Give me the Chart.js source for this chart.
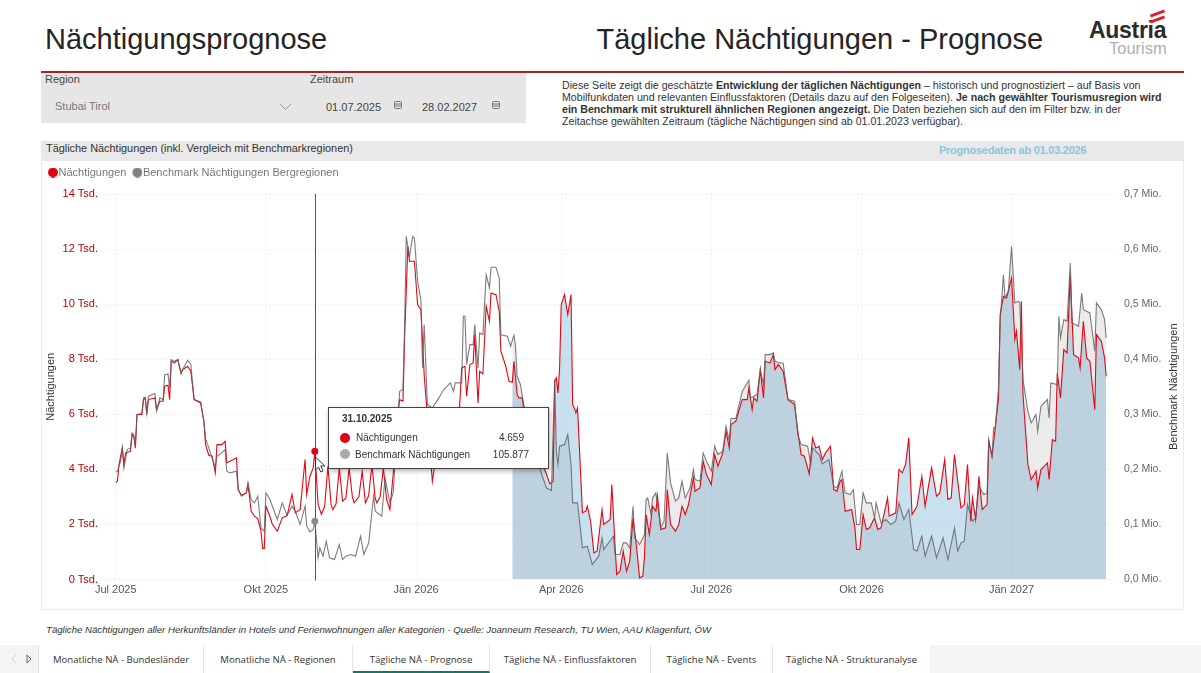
<!DOCTYPE html>
<html lang="de"><head><meta charset="utf-8"><title>Nächtigungsprognose</title>
<script src="https://cdn.jsdelivr.net/npm/chart.js@4"></script>
<style>
html,body{margin:0;padding:0;background:#fff;width:1201px;height:673px;overflow:hidden;font-family:"Liberation Sans",Arial,sans-serif;color:#333}
.a{position:absolute;white-space:nowrap}
#chartWrap{position:absolute;left:41px;top:161px;width:1143px;height:449px}
canvas{display:block}
.tab{position:absolute;top:645px;height:28px;text-align:center;font:9.6px/30px "Open Sans",sans-serif;color:#333;border-right:1px solid #e3e3e3;box-sizing:border-box;background:#fff}
</style></head><body>
<div class="a" style="left:45px;top:23px;font-size:29px;color:#252423">Nächtigungsprognose</div>
<div class="a" style="left:596.500px;top:23px;font-size:29px;color:#252423">Tägliche Nächtigungen - Prognose</div>
<div class="a" style="left:1089px;top:17px;font-size:23px;font-weight:bold;color:#2b2b2b;letter-spacing:-.3px">Austria</div>
<div class="a" style="left:1109px;top:39px;font-size:16.500px;color:#b0b0b0">Tourism</div>
<div class="a" style="left:1150px;top:12px;width:15px;height:3px;background:#d8232a;transform:rotate(-20deg)"></div>
<div class="a" style="left:1150px;top:18px;width:15px;height:3px;background:#d8232a;transform:rotate(-20deg)"></div>
<div class="a" style="left:41px;top:71px;width:1143px;height:2px;background:#a4262c"></div>
<div class="a" style="left:41px;top:73px;width:485px;height:50px;background:#e6e6e6"></div>
<div class="a" style="left:45px;top:73px;font-size:11px;color:#444">Region</div>
<div class="a" style="left:310px;top:73px;font-size:11px;color:#444">Zeitraum</div>
<div class="a" style="left:55px;top:100px;font-size:11px;color:#777">Stubai Tirol</div>
<svg class="a" style="left:279px;top:103px" width="13" height="8"><path d="M1 1l5.500 5.500L12 1" fill="none" stroke="#999"/></svg>
<div class="a" style="left:326px;top:101px;font-size:11px;color:#444">01.07.2025</div>
<div class="a" style="left:422px;top:101px;font-size:11px;color:#444">28.02.2027</div>
<svg class="a" style="left:394px;top:101px" width="9" height="9"><rect x=".5" y=".5" width="7" height="7" rx="1" fill="none" stroke="#777"/><path d="M1 3h6M1 5h6" stroke="#777"/></svg>
<svg class="a" style="left:492px;top:101px" width="9" height="9"><rect x=".5" y=".5" width="7" height="7" rx="1" fill="none" stroke="#777"/><path d="M1 3h6M1 5h6" stroke="#777"/></svg>
<div class="a" style="left:562px;top:79px;font-size:10.620px;line-height:12.100px;color:#333">Diese Seite zeigt die geschätzte <b>Entwicklung der täglichen Nächtigungen</b> – historisch und prognostiziert – auf Basis von<br>Mobilfunkdaten und relevanten Einflussfaktoren (Details dazu auf den Folgeseiten). <b>Je nach gewählter Tourismusregion wird</b><br><b>ein Benchmark mit strukturell ähnlichen Regionen angezeigt.</b> Die Daten beziehen sich auf den im Filter bzw. in der<br>Zeitachse gewählten Zeitraum (tägliche Nächtigungen sind ab 01.01.2023 verfügbar).</div>
<div class="a" style="left:41px;top:141px;width:1143px;height:20px;background:#e9e9e9"></div>
<div class="a" style="left:46px;top:142px;font-size:10.900px;color:#333">Tägliche Nächtigungen (inkl. Vergleich mit Benchmarkregionen)</div>
<div class="a" style="left:939px;top:144px;font-size:11px;font-weight:bold;color:#8cc4de;letter-spacing:-.25px">Prognosedaten ab 01.03.2026</div>
<div id="chartWrap" style="border:1px solid #ececec;border-top:none;box-sizing:border-box"><canvas id="c" width="1141" height="448"></canvas></div>
<div id="tip" class="a" style="left:328px;top:407px;width:221px;height:62px;background:#fff;border:1px solid #444;box-sizing:border-box;box-shadow:1px 2px 5px rgba(0,0,0,.3);font-size:10px;color:#333">
  <div class="a" style="left:13px;top:5px;font-weight:bold" id="tipDate"></div>
  <div class="a" style="left:11px;top:25px;width:10px;height:10px;border-radius:5px;background:#e00010"></div>
  <div class="a" style="left:11px;top:41px;width:10px;height:10px;border-radius:5px;background:#aaa"></div>
  <div class="a" style="left:27px;top:24px" id="tipL1"></div>
  <div class="a" style="left:26px;top:41px" id="tipL2"></div>
  <div class="a" style="right:24px;top:24px" id="tipV1"></div>
  <div class="a" style="right:19px;top:41px" id="tipV2"></div>
</div>
<svg class="a" style="left:314px;top:456px" width="14" height="18"><path d="M1.500 1v13l3-3 2.200 5 2.300-1-2.200-5h4z" fill="#fff" stroke="#333"/></svg>
<div class="a" style="left:46px;top:624px;font-size:9.650px;font-style:italic;color:#333">Tägliche Nächtigungen aller Herkunftsländer in Hotels und Ferienwohnungen aller Kategorien - Quelle: Joanneum Research, TU Wien, AAU Klagenfurt, ÖW</div>
<div class="a" style="left:0;top:645px;width:1201px;height:28px;background:#f4f4f4"></div>
<svg class="a" style="left:10px;top:654px" width="24" height="10"><path d="M6 1L2 5l4 4" fill="none" stroke="#ccc"/><path d="M17 1l4 4-4 4z" fill="none" stroke="#666"/></svg>
<div class="tab" style="left:38px;width:166px;border-left:1px solid #e3e3e3">Monatliche NÄ - Bundesländer</div>
<div class="tab" style="left:204px;width:149px">Monatliche NÄ - Regionen</div>
<div class="tab" style="left:353px;width:137px;border-bottom:2px solid #117865">Tägliche NÄ - Prognose</div>
<div class="tab" style="left:490px;width:161px">Tägliche NÄ - Einflussfaktoren</div>
<div class="tab" style="left:651px;width:122px">Tägliche NÄ - Events</div>
<div class="tab" style="left:773px;width:157px;border-right:none">Tägliche NÄ - Strukturanalyse</div>
<script>
const tickDays=[0,92,184,273,365,457,549];
const tickLabels=["Jul 2025","Okt 2025","Jän 2026","Apr 2026","Jul 2026","Okt 2026","Jän 2027"];
const forecastStartDay=243;
const hoverDay=122;
const hoverDate="31.10.2025";

const redDays=[
0,1,2,4,5,6,9,10,11,12,
13,16,17,18,19,20,24,25,27,29,
30,32,33,34,36,38,40,41,44,46,
48,52,54,55,57,59,61,62,65,67,
68,70,74,75,77,80,81,83,85,87,
89,90,91,92,94,96,99,102,105,108,
110,113,116,117,119,121,122,124,126,128,
130,132,133,135,137,139,141,143,145,146,
149,151,153,155,157,159,160,162,164,166,
168,170,173,174,176,177,179,180,183,185,
187,189,194,197,201,205,209,212,214,215,
217,219,220,222,223,225,227,229,230,233,
235,236,239,241,243,244,246,247,249,250,
256,261,264,266,268,269,270,271,272,273,
275,277,279,280,281,282,283,286,288,289,
291,293,295,298,299,303,304,306,307,309,
311,313,315,317,319,321,323,324,325,327,
329,331,332,334,337,338,340,343,345,347,
349,351,354,355,358,360,362,365,367,369,
372,374,376,377,380,383,384,387,388,390,
391,393,395,397,398,401,403,404,406,409,
412,416,418,420,422,425,427,429,431,433,
435,438,440,442,444,445,447,451,453,454,
456,458,460,462,465,467,469,473,474,478,
480,482,484,486,488,491,494,496,500,503,
505,508,510,512,514,518,520,522,524,525,
527,529,531,534,535,537,539,541,542,544,
546,549,551,552,554,555,556,559,561,564,
565,567,571,572,574,576,577,579,581,583,
585,587,590,591,593,595,597,600,601,604,
606,607];
const redValues=[
3533,3570,4175,4780,4175,4598,4659,5264,5203,4780,
5990,5990,6534,6595,6050,6534,6595,6171,6474,6474,
7018,7054,6534,7926,7865,7986,7502,7623,7744,7563,
6534,6413,5748,4900,4513,4477,3872,4900,4900,5022,
4235,4296,4417,3267,3061,3146,3449,2480,2299,2214,
1755,1125,1125,2662,2360,1997,1755,2239,2323,3086,
2420,2541,4356,3086,3751,4054,4659,2723,2360,2650,
4114,2700,2541,2750,4054,2844,2950,4054,3000,2783,
3000,3933,2783,3050,4175,2950,2783,3000,4054,2900,
2541,3812,6110,6534,6474,8772,12100,11555,11555,9982,
9801,7441,3570,4780,4175,5022,4417,7684,7744,6655,
7805,7865,8894,6413,7563,7466,9922,9378,10406,10346,
9741,8289,7744,7200,7163,7926,6716,6595,6595,6231,
5142,4296,3812,3473,3570,7200,7320,6776,7684,9982,
10346,9620,10346,6353,6231,6050,6231,2420,2480,2662,
2118,968,1029,2541,1997,2178,3449,1210,182,303,
1029,303,666,2239,1271,61,121,787,2360,1634,
2662,2480,3025,1815,1876,3267,1997,1755,1997,2662,
2360,2723,3691,3207,3328,4296,3812,3449,4538,4114,
4598,5385,4780,5627,5748,6353,6534,6534,6958,6171,
6595,6474,7623,6595,7926,7865,8168,7623,7805,7563,
6534,6353,5385,4538,4477,3836,5143,4780,4840,4356,
4598,4840,3267,3207,3570,3630,2480,2541,1876,1089,
1089,2360,1815,1876,2239,1815,1876,2965,2299,2420,
3993,3872,4175,5143,2360,2662,3751,2662,4054,3025,
3146,4356,2904,2965,4538,2602,2723,4175,2118,2965,
2178,3751,2541,2723,5022,4477,5506,6595,9620,10285,
10225,10951,8712,9015,7623,10104,6716,4175,3630,3933,
3328,3993,4235,3630,5082,5022,7502,6595,8349,8228,
11072,8168,8047,7684,9378,8047,7926,6171,8894,8652,
8047,7381];

const benchDays=[
0,1,3,4,5,7,9,10,11,12,
13,16,17,18,19,20,24,25,27,29,
30,32,33,34,36,38,40,41,44,46,
48,52,54,55,57,59,61,62,65,67,
68,70,74,75,77,80,81,83,85,87,
89,91,92,94,96,99,102,105,108,110,
113,116,117,119,121,122,124,125,127,129,
131,134,137,139,141,144,147,150,152,155,
158,159,163,165,168,170,173,174,176,177,
178,180,182,183,185,187,188,189,191,194,
198,201,205,207,208,212,213,214,215,217,
219,220,222,223,225,227,229,230,233,235,
236,237,240,242,243,244,245,246,248,250,
256,261,264,267,269,270,271,272,275,277,
279,280,283,286,289,292,296,298,299,305,
306,309,311,313,315,317,318,321,324,325,
326,328,329,331,334,336,338,340,343,345,
347,349,352,354,355,358,360,362,365,367,
369,372,374,376,377,380,382,384,388,389,
393,395,397,398,401,403,404,407,409,412,
416,418,420,424,426,427,431,433,437,440,
442,445,447,450,452,454,456,458,460,463,
465,466,469,472,475,478,480,483,486,489,
491,494,496,500,503,507,510,514,516,518,
520,522,525,527,529,532,534,535,537,538,
539,541,542,544,545,547,549,551,553,554,
555,556,559,561,564,565,567,571,572,573,
577,578,579,581,583,585,586,590,592,593,
597,600,601,604,606,607];
const benchValues=[
194810,196625,214775,238975,202675,235950,238975,266200,263175,245025,
299475,302500,329725,330935,299475,332750,337590,305525,329725,326700,
372075,373285,347875,399300,396275,399300,373285,381150,398090,390225,
326700,322465,287375,255915,238975,220825,202675,223850,229900,235950,
196625,193600,196625,163350,151250,157300,175450,145200,139150,151250,
93775,87725,157300,148225,133100,108900,139150,116160,133100,124025,
99825,133100,96800,86515,90750,105877,39325,57475,42350,69575,
39325,36300,63525,36300,42350,45375,42350,78650,45375,66550,
151250,124025,114950,184525,139150,157300,299475,341825,344850,456775,
623150,586850,623150,620125,541475,508200,384175,462825,317625,311575,
329725,344850,356950,341825,356950,356950,477950,477950,390225,426525,
426525,462825,384175,447700,444675,553575,529375,566885,566885,547525,
444675,443465,441650,423500,433785,443465,423500,369050,353925,317625,
251075,190575,166375,161535,363000,232925,208725,242000,245025,263175,
208725,139150,139150,57475,60500,27225,42350,75625,54450,78650,
45375,45375,66550,66550,57475,133100,75625,63525,81675,145200,
148225,117975,148225,157300,93775,105875,229900,175450,142175,148225,
178475,148225,166375,199650,181500,178475,229900,214775,196625,242000,
226875,232925,278300,251075,292215,292215,317625,341825,361790,329725,
335775,381150,353925,408375,408375,411400,396275,393250,393250,326700,
323675,263175,245025,242000,208725,238975,226875,209935,217800,169400,
166375,196625,157300,154275,163350,99825,99825,157300,139150,139150,
111925,139150,102850,108900,99825,105875,139150,108900,127050,54450,
51425,78650,42350,78650,39325,75625,36300,93775,51425,66550,
69575,136125,105875,111925,169400,154275,157300,254100,223850,275275,
275275,347875,468875,553575,511225,523325,605000,502150,505175,502150,
432575,363000,305525,284350,299475,269225,314600,326700,293425,356950,
353925,477950,438625,471900,468875,574750,465850,459800,520300,490050,
484000,414425,502150,490050,471900,438625];

const RED="#e30613";
const toPts=(xs,ys)=>xs.map((x,i)=>({x,y:ys[i]}));
const redPts=toPts(redDays,redValues), benchPts=toPts(benchDays,benchValues);
const fmt=v=>v.toLocaleString("de-DE");

document.getElementById("tipDate").textContent=hoverDate;
document.getElementById("tipL1").textContent="Nächtigungen";
document.getElementById("tipL2").textContent="Benchmark Nächtigungen";
document.getElementById("tipV1").textContent=fmt(redValues[redDays.indexOf(hoverDay)]);
document.getElementById("tipV2").textContent=fmt(benchValues[benchDays.indexOf(hoverDay)]);

function dot(color){
  const c=document.createElement("canvas");c.width=14;c.height=10;
  const g=c.getContext("2d");g.fillStyle=color;g.beginPath();g.arc(9,5,5,0,7);g.fill();
  return c;
}

const hoverPlugin={id:"hover",
 beforeLayout(ch){
  const l=ch.legend;
  if(l && !l._fitWrapped){
    l._fitWrapped=true;
    const f=l.fit;
    l.fit=function(){f.call(this);this.height+=6;};
  }
 },
 afterLayout(ch){
  const s=ch.scales.y2;
  s.drawTitle=function(){
    const o=this.options.title,c=this.ctx;
    c.save();c.translate(this.right-9,(this.top+this.bottom)/2);c.rotate(-Math.PI/2);
    c.font="11px 'Liberation Sans'";c.fillStyle=o.color;c.textAlign="center";c.textBaseline="middle";
    c.fillText(o.text,0,0);c.restore();
  };
 },
 afterDatasetsDraw(ch){
  const {ctx,chartArea:a,scales:{x,y,y2}}=ch;
  const px=x.getPixelForValue(hoverDay);
  ctx.save();ctx.strokeStyle="#555";ctx.lineWidth=1;ctx.beginPath();
  ctx.moveTo(Math.round(px)+.5,a.top);ctx.lineTo(Math.round(px)+.5,a.bottom+1);ctx.stroke();
  ctx.fillStyle="#e00010";ctx.beginPath();ctx.arc(px,y.getPixelForValue(redValues[redDays.indexOf(hoverDay)]),3.5,0,7);ctx.fill();
  ctx.fillStyle="#8c8c8c";ctx.beginPath();ctx.arc(px,y2.getPixelForValue(benchValues[benchDays.indexOf(hoverDay)]),3.5,0,7);ctx.fill();
  ctx.restore();
}};

new Chart(document.getElementById("c"),{
  type:"line",
  plugins:[hoverPlugin],
  data:{datasets:[
    {label:"Nächtigungen",data:redPts,yAxisID:"y",borderColor:RED,backgroundColor:"#e00010",pointStyle:dot("#e00010"),borderWidth:1.1,pointRadius:0,tension:0,fill:false,order:2},
    {label:"Benchmark Nächtigungen Bergregionen",data:benchPts,yAxisID:"y2",borderColor:"rgba(95,95,95,.82)",backgroundColor:"#808080",pointStyle:dot("#808080"),borderWidth:1.1,pointRadius:0,tension:0,fill:false,order:1},
    {label:"Prognose Nächtigungen",data:redPts.filter(p=>p.x>=forecastStartDay),yAxisID:"y",borderWidth:0,pointRadius:0,tension:0,fill:"origin",backgroundColor:"rgba(100,170,210,.35)",order:4},
    {label:"Prognose Benchmark",data:benchPts.filter(p=>p.x>=forecastStartDay),yAxisID:"y2",borderWidth:0,pointRadius:0,tension:0,fill:"origin",backgroundColor:"rgba(120,120,120,.15)",order:3}
  ]},
  options:{
    responsive:false,animation:false,devicePixelRatio:1,
    parsing:true,normalized:true,
    layout:{padding:{top:-1,bottom:0,left:0,right:0}},
    plugins:{
      tooltip:{enabled:false},
      legend:{display:true,position:"top",align:"start",
        labels:{filter:i=>i.datasetIndex<2,sort:(a,b)=>a.datasetIndex-b.datasetIndex,usePointStyle:true,pointStyleWidth:4,boxHeight:7,padding:7,color:"#777",font:{family:"Liberation Sans",size:11}}}
    },
    scales:{
      x:{type:"linear",min:-6,max:613,
        grid:{color:"#e4e4e4",drawTicks:false},border:{display:false,dash:[1,3]},
        afterBuildTicks(s){s.ticks=tickDays.map(v=>({value:v}));},
        afterFit(s){s.height=29.5;},
        ticks:{autoSkip:false,maxRotation:0,padding:3.5,color:"#555",font:{family:"Liberation Sans",size:11},
          callback(v){return tickLabels[tickDays.indexOf(v)];}}},
      y:{position:"left",min:0,max:14000,
        grid:{color:"#e4e4e4",drawTicks:false},border:{display:false,dash:[1,3]},
        afterFit(s){s.width=64;},
        ticks:{stepSize:2000,padding:8,color:"#c00000",font:{family:"Liberation Sans",size:11},callback:v=>(v/1000)+" Tsd."},
        title:{display:true,text:"Nächtigungen",color:"#333",padding:{top:2,bottom:0},font:{family:"Liberation Sans",size:11}}},
      y2:{position:"right",min:0,max:700000,
        grid:{display:false,drawTicks:false},border:{display:false},
        afterFit(s){s.width=67;},
        ticks:{stepSize:100000,padding:8,color:"#666",font:{family:"Liberation Sans",size:10.5},
          callback:v=>(v/1000000).toFixed(1).replace(".",",")+" Mio."},
        title:{display:true,text:"Benchmark Nächtigungen",color:"#333",padding:{top:0,bottom:0},font:{family:"Liberation Sans",size:11}}}
    }
  }
});
</script>
</body></html>
